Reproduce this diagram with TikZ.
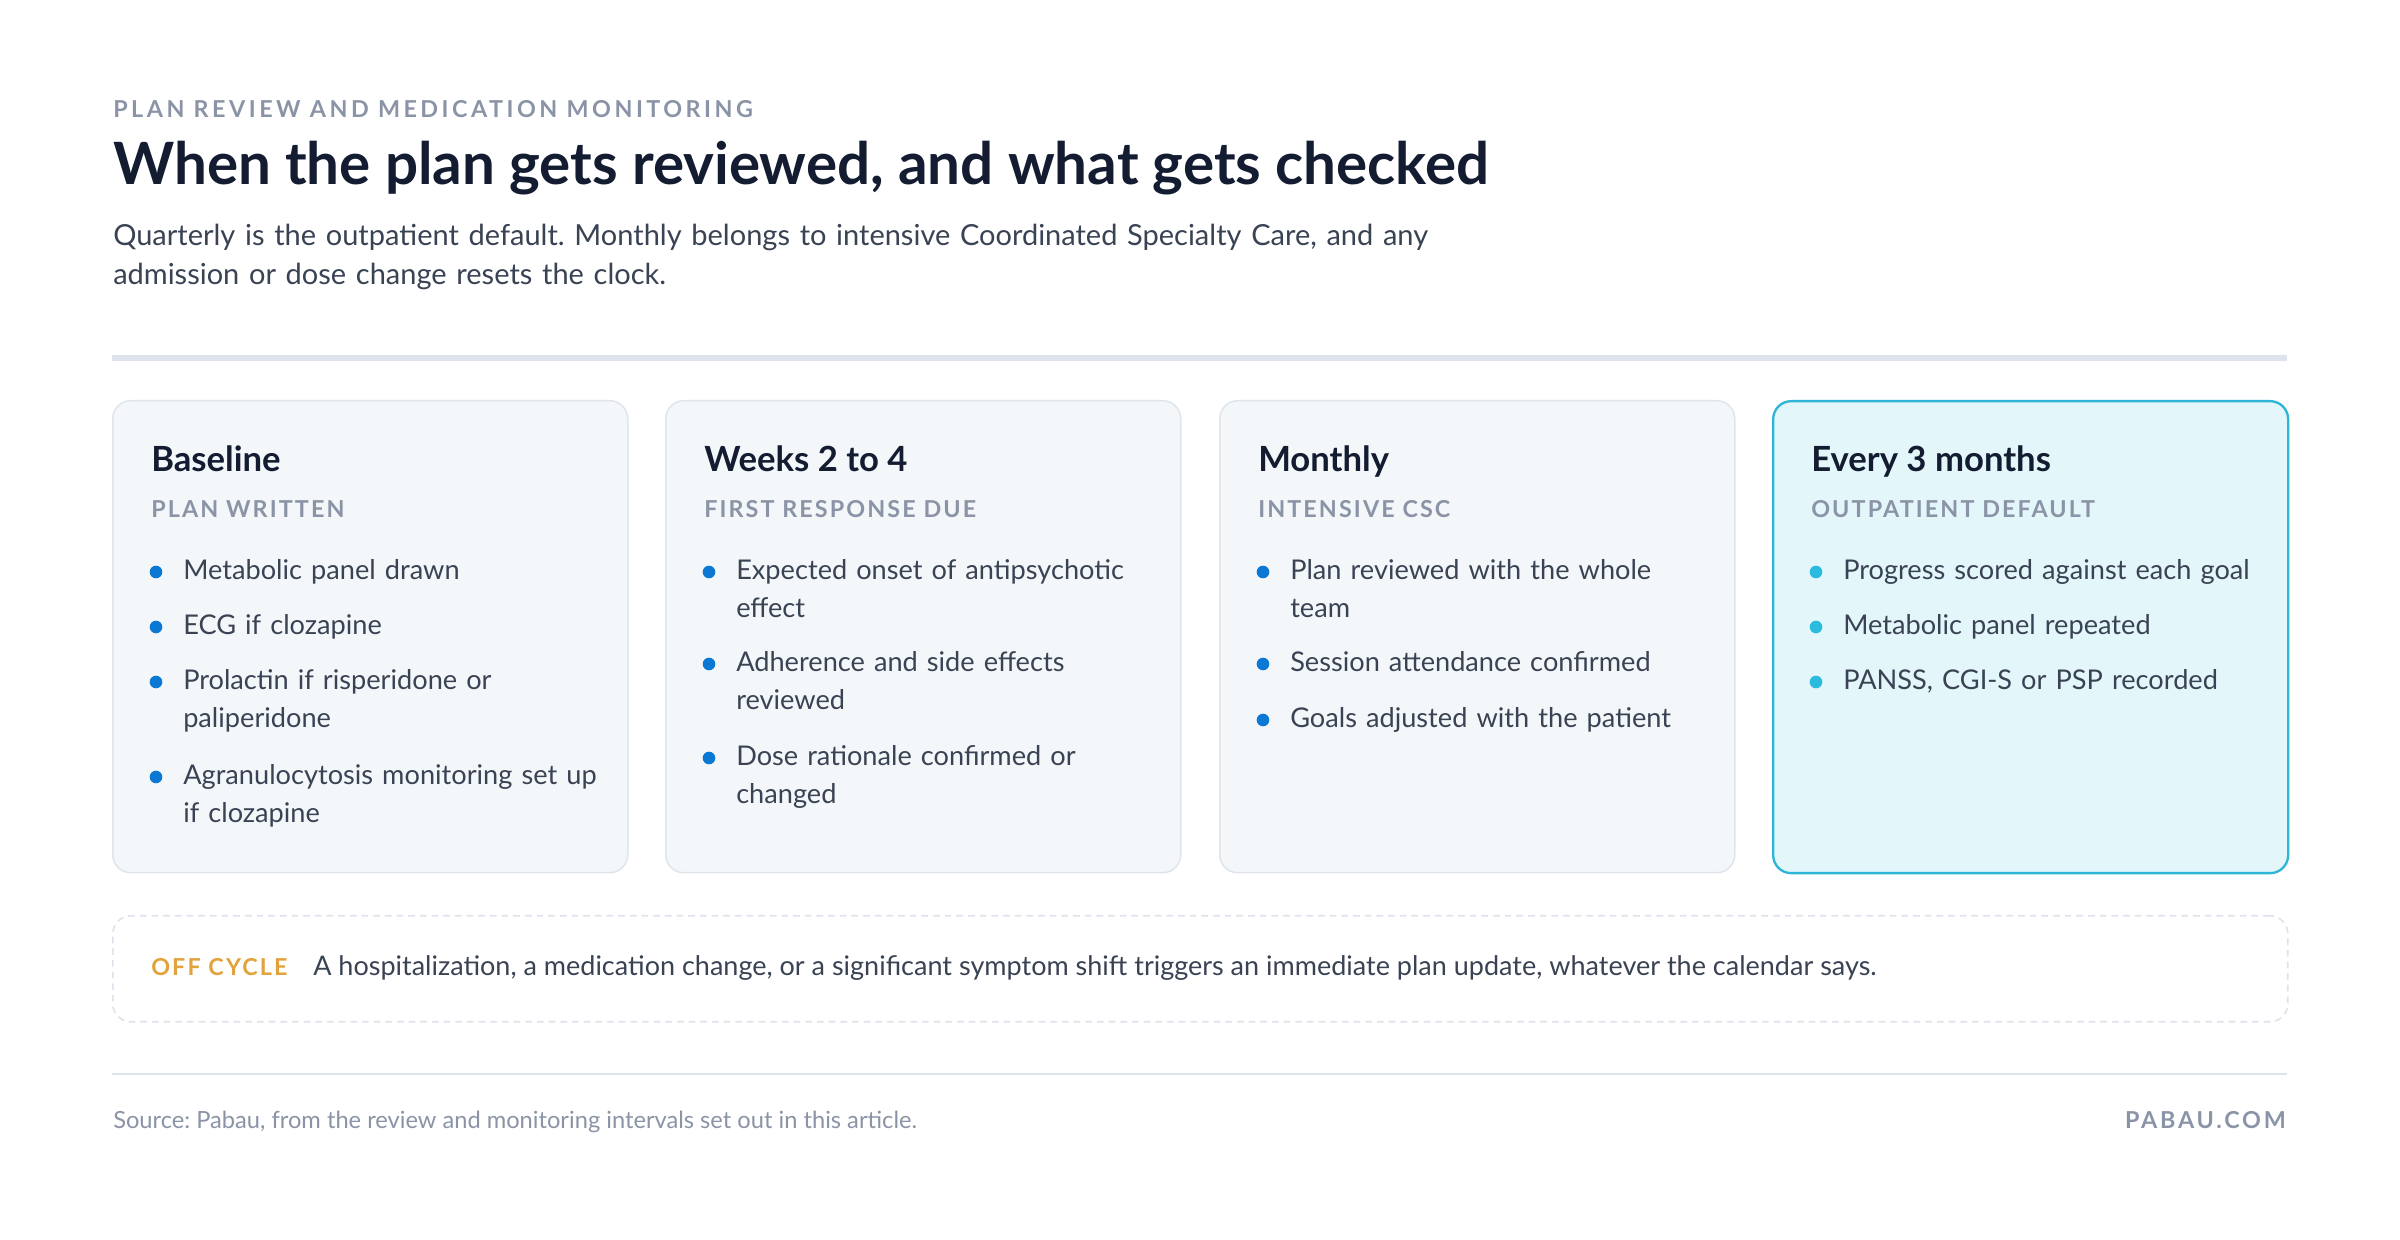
\documentclass[tikz,border=0pt]{standalone}
\usepackage{fontspec}
\setmainfont{Lato}
\usetikzlibrary{positioning}
\frenchspacing

\definecolor{inkNavy}{HTML}{131C31}
\definecolor{inkBody}{HTML}{3A4354}
\definecolor{inkGray}{HTML}{8B94A6}
\definecolor{ruleGray}{HTML}{DFE3EC}
\definecolor{cardFill}{HTML}{F4F7FA}
\definecolor{cardLine}{HTML}{E0E5EC}
\definecolor{hotFill}{HTML}{E3F6FA}
\definecolor{hotLine}{HTML}{2FB6D6}
\definecolor{dotBlue}{HTML}{0B78D4}
\definecolor{dotCyan}{HTML}{2ABBDF}
\definecolor{offOrange}{HTML}{E2A23C}

\tikzset{every picture/.style={line width=0.75pt}}
\tikzset{
  card/.style={draw=cardLine, fill=cardFill, line width=0.45pt, rounded corners=5.4pt,
    minimum width=154.5pt, minimum height=141.6pt, anchor=north west, inner sep=0pt},
  hotcard/.style={card, draw=hotLine, fill=hotFill, line width=0.7pt},
  cardtitle/.style={anchor=base west, inner sep=0pt, text=inkNavy, font=\fontsize{10.4}{12}\selectfont\bfseries},
  cardsub/.style={anchor=base west, inner sep=0pt, text=inkGray,
    font=\fontsize{7}{8}\selectfont\bfseries\addfontfeatures{LetterSpace=9}},
  item/.style={anchor=base west, inner sep=0pt, text=inkBody, align=left, text width=125pt,
    font=\fontsize{8.15}{11.3}\selectfont},
  dot/.style={circle, fill=dotBlue, inner sep=0pt, minimum size=3.8pt},
  hotdot/.style={dot, fill=dotCyan}
}

\begin{document}
\begin{tikzpicture}[x=0.3pt,y=0.3pt,yscale=-1,xscale=1]
\useasboundingbox[fill=white] (0,0) rectangle (2400,1240);

% Text Node
\draw (112,118) node [anchor=base west, inner sep=0pt, text=inkGray, font=\fontsize{7}{8}\selectfont\bfseries\addfontfeatures{LetterSpace=15}] (eyebrow) {PLAN REVIEW AND MEDICATION MONITORING};
% Text Node
\draw (112,185) node [anchor=base west, inner sep=0pt, text=inkNavy, font=\fontsize{17.5}{20}\selectfont\bfseries] (title) {When the plan gets reviewed, and what gets checked};
% Text Node
\draw (112,246) node [anchor=base west, inner sep=0pt, text=inkBody, align=left, text width=440pt, font=\fontsize{8.7}{11.7}\selectfont] (lede) {Quarterly is the outpatient default. Monthly belongs to intensive Coordinated Specialty Care, and any\\admission or dose change resets the clock.};

%Straight Lines
\draw [ruleGray, line width=1.8pt] (112,358) coordinate (ruleL) -- (2287,358) coordinate (ruleR);

%Shape: Rectangle
\node [card] (base) at (112,400) {};
\node [card] (weeks) at (665,400) {};
\node [card] (month) at (1219,400) {};
\node [hotcard] (quarter) at (1772,400) {};

% Text Node
\draw (150,472) node [cardtitle] (baseT) {Baseline};
\draw (150,518) node [cardsub] (baseS) {PLAN WRITTEN};
\node [dot] (bd1) at (156,572) {};
\draw (182,580) node [item] (bi1) {Metabolic panel drawn};
\node [dot] (bd2) at (156,627) {};
\draw (182,635) node [item] (bi2) {ECG if clozapine};
\node [dot] (bd3) at (156,682) {};
\draw (182,690) node [item] (bi3) {Prolactin if risperidone or\\paliperidone};
\node [dot] (bd4) at (156,777) {};
\draw (182,785) node [item] (bi4) {Agranulocytosis monitoring set up\\if clozapine};

% Text Node
\draw (703,472) node [cardtitle] (weeksT) {Weeks 2 to 4};
\draw (703,518) node [cardsub] (weeksS) {FIRST RESPONSE DUE};
\node [dot] (wd1) at (709,572) {};
\draw (735,580) node [item] (wi1) {Expected onset of antipsychotic\\effect};
\node [dot] (wd2) at (709,664) {};
\draw (735,672) node [item] (wi2) {Adherence and side effects\\reviewed};
\node [dot] (wd3) at (709,758) {};
\draw (735,766) node [item] (wi3) {Dose rationale confirmed or\\changed};

% Text Node
\draw (1257,472) node [cardtitle] (monthT) {Monthly};
\draw (1257,518) node [cardsub] (monthS) {INTENSIVE CSC};
\node [dot] (md1) at (1263,572) {};
\draw (1289,580) node [item] (mi1) {Plan reviewed with the whole\\team};
\node [dot] (md2) at (1263,664) {};
\draw (1289,672) node [item] (mi2) {Session attendance confirmed};
\node [dot] (md3) at (1263,720) {};
\draw (1289,728) node [item] (mi3) {Goals adjusted with the patient};

% Text Node
\draw (1810,472) node [cardtitle] (quarterT) {Every 3 months};
\draw (1810,518) node [cardsub] (quarterS) {OUTPATIENT DEFAULT};
\node [hotdot] (qd1) at (1816,572) {};
\draw (1842,580) node [item] (qi1) {Progress scored against each goal};
\node [hotdot] (qd2) at (1816,627) {};
\draw (1842,635) node [item] (qi2) {Metabolic panel repeated};
\node [hotdot] (qd3) at (1816,682) {};
\draw (1842,690) node [item] (qi3) {PANSS, CGI-S or PSP recorded};

%Shape: Rectangle
\node [draw=ruleGray, line width=0.5pt, dash pattern=on 2pt off 1.5pt, rounded corners=5.4pt,
  minimum width=652.5pt, minimum height=31.8pt, anchor=north west, inner sep=0pt] (offbox) at (112,915) {};
% Text Node
\draw (150,976) node [cardsub, text=offOrange] (offT) {OFF CYCLE};
\draw (312,976) node [anchor=base west, inner sep=0pt, text=inkBody, font=\fontsize{8.1}{10}\selectfont] (offX) {A hospitalization, a medication change, or a significant symptom shift triggers an immediate plan update, whatever the calendar says.};

%Straight Lines
\draw [ruleGray, line width=0.6pt] (112,1074) coordinate (footL) -- (2287,1074) coordinate (footR);

% Text Node
\draw (112,1129) node [anchor=base west, inner sep=0pt, text=inkGray, font=\fontsize{7.1}{8}\selectfont] (source) {Source: Pabau, from the review and monitoring intervals set out in this article.};
\draw (2287,1129) node [anchor=base east, inner sep=0pt, text=inkGray, font=\fontsize{7}{8}\selectfont\bfseries\addfontfeatures{LetterSpace=12}] (brand) {PABAU.COM};

\end{tikzpicture}
\end{document}
